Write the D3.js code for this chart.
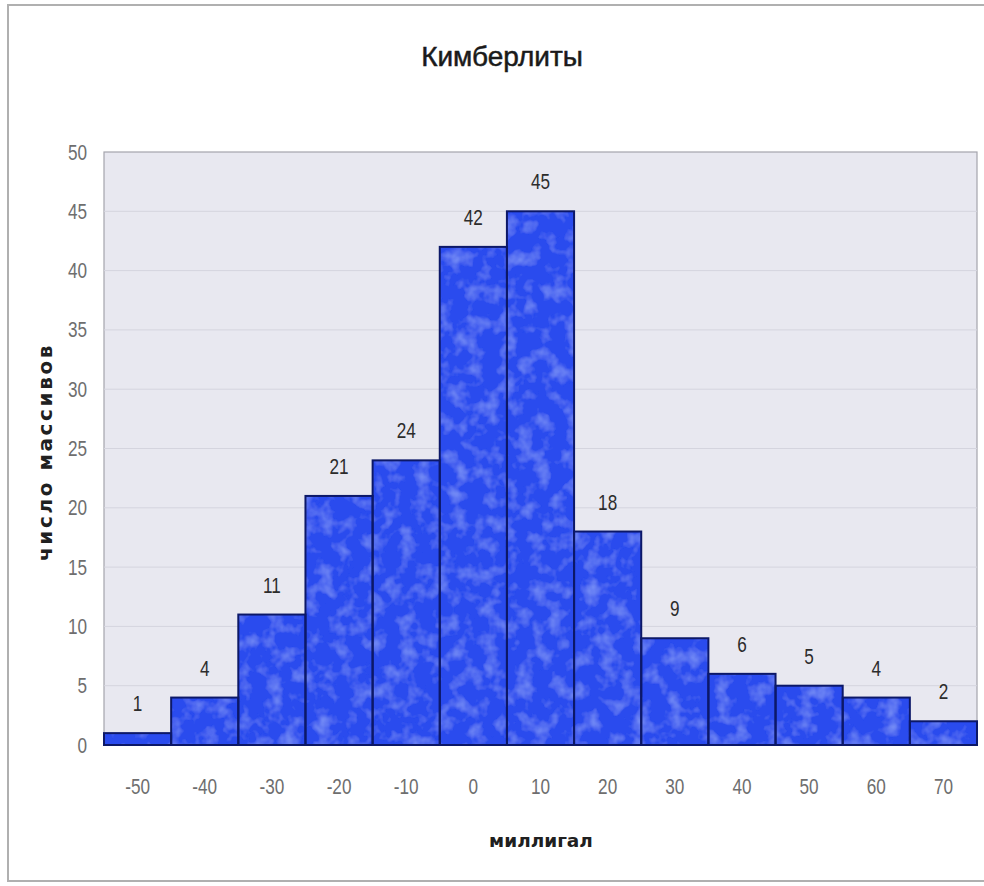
<!DOCTYPE html>
<html>
<head>
<meta charset="utf-8">
<script src="https://cdn.jsdelivr.net/npm/d3@7"></script>
<style>
  html, body { margin: 0; padding: 0; background: #ffffff; }
  svg { display: block; }
</style>
</head>
<body>
<svg id="chart" width="984" height="886"></svg>
<script>
// Histogram of kimberlite bodies by gravity anomaly (mGal)
const categories = ["-50", "-40", "-30", "-20", "-10", "0", "10", "20", "30", "40", "50", "60", "70"];
const counts = [1, 4, 11, 21, 24, 42, 45, 18, 9, 6, 5, 4, 2];
const yTicks = [0, 5, 10, 15, 20, 25, 30, 35, 40, 45, 50];

const titleText = "Кимберлиты";
const xLabel = "миллигал";
const yLabel = "число массивов";

const svg = d3.select("#chart");
const W = 984, H = 886;
const plot = { left: 104, right: 977, top: 152, bottom: 745 };
const sans = "'Liberation Sans', Arial, sans-serif";
const bold = "'DejaVu Sans', sans-serif";
const squeeze = 0.78; // horizontal compression for the narrow numeric labels

// Faint mottled texture for the bar fill
const defs = svg.append("defs");
const f = defs.append("filter").attr("id", "mottle")
  .attr("x", 0).attr("y", 0).attr("width", 1).attr("height", 1);
f.append("feTurbulence")
  .attr("type", "fractalNoise").attr("baseFrequency", 0.06)
  .attr("numOctaves", 3).attr("seed", 7).attr("result", "noise");
f.append("feColorMatrix").attr("in", "noise").attr("type", "matrix")
  .attr("values", "0 0 0 0 0.38  0 0 0 0 0.52  0 0 0 0 1  0 0 0 0.9 -0.42")
  .attr("result", "spots");
f.append("feComposite").attr("in", "spots").attr("in2", "SourceGraphic")
  .attr("operator", "in").attr("result", "clipped");
const merge = f.append("feMerge");
merge.append("feMergeNode").attr("in", "SourceGraphic");
merge.append("feMergeNode").attr("in", "clipped");

// Outer frame of the chart area
svg.append("rect")
  .attr("x", 8).attr("y", 5)
  .attr("width", W + 10).attr("height", 876)
  .attr("fill", "#ffffff")
  .attr("stroke", "#b0b0b0").attr("stroke-width", 2);

const x = d3.scaleBand().domain(categories).range([plot.left, plot.right]).padding(0);
const y = d3.scaleLinear().domain([0, 50]).range([plot.bottom, plot.top]);

// Plot background
svg.append("rect")
  .attr("x", plot.left).attr("y", plot.top)
  .attr("width", plot.right - plot.left).attr("height", plot.bottom - plot.top)
  .attr("fill", "#e8e8f0")
  .attr("stroke", "#a4a4ac").attr("stroke-width", 1.2);

// Horizontal gridlines
svg.append("g")
  .selectAll("line")
  .data(yTicks.filter(t => t > 0 && t < 50))
  .join("line")
  .attr("x1", plot.left).attr("x2", plot.right)
  .attr("y1", d => y(d)).attr("y2", d => y(d))
  .attr("stroke", "#d4d4de").attr("stroke-width", 1);

const barData = categories.map((c, i) => ({ c, v: counts[i] }));

// Bar fills
svg.append("g")
  .selectAll("rect")
  .data(barData)
  .join("rect")
  .attr("x", d => x(d.c))
  .attr("y", d => y(d.v))
  .attr("width", x.bandwidth())
  .attr("height", d => y(0) - y(d.v))
  .attr("fill", "#2b4cee")
  .attr("filter", "url(#mottle)");

// Bar outlines
svg.append("g")
  .selectAll("rect")
  .data(barData)
  .join("rect")
  .attr("x", d => x(d.c))
  .attr("y", d => y(d.v))
  .attr("width", x.bandwidth())
  .attr("height", d => y(0) - y(d.v))
  .attr("fill", "none")
  .attr("stroke", "#0c1868")
  .attr("stroke-width", 2);

// Value labels above bars
svg.append("g")
  .selectAll("text")
  .data(barData)
  .join("text")
  .attr("transform", d => `translate(${x(d.c) + x.bandwidth() / 2},${y(d.v) - 22}) scale(${squeeze},1)`)
  .attr("text-anchor", "middle")
  .attr("font-family", sans)
  .attr("font-size", 22)
  .attr("fill", "#2c2c2c")
  .text(d => d.v);

// Y axis labels
const yAxis = d3.axisLeft(y).tickValues(yTicks).tickSize(0).tickPadding(17 / squeeze);
const gy = svg.append("g").attr("transform", `translate(${plot.left},0)`).call(yAxis);
gy.select(".domain").remove();
gy.selectAll("text")
  .attr("transform", `scale(${squeeze},1)`)
  .attr("font-family", sans)
  .attr("font-size", 22)
  .attr("fill", "#6e6e6e");

// X axis labels
const xAxis = d3.axisBottom(x).tickSize(0).tickPadding(33);
const gx = svg.append("g").attr("transform", `translate(0,${plot.bottom})`).call(xAxis);
gx.select(".domain").remove();
gx.selectAll("text")
  .attr("transform", `scale(${squeeze},1)`)
  .attr("font-family", sans)
  .attr("font-size", 22)
  .attr("fill", "#6e6e6e");

// Title
svg.append("text")
  .attr("x", 502).attr("y", 66)
  .attr("text-anchor", "middle")
  .attr("font-family", sans)
  .attr("font-size", 28)
  .attr("fill", "#1a1a1a")
  .attr("stroke", "#1a1a1a").attr("stroke-width", 0.5)
  .text(titleText);

// Axis titles
svg.append("text")
  .attr("x", 541).attr("y", 847)
  .attr("text-anchor", "middle")
  .attr("font-family", bold)
  .attr("font-weight", "bold")
  .attr("font-size", 18.5)
  .attr("fill", "#202020")
  .text(xLabel);

svg.append("text")
  .attr("transform", `translate(52,452) rotate(-90)`)
  .attr("text-anchor", "middle")
  .attr("font-family", bold)
  .attr("font-weight", "bold")
  .attr("font-size", 20)
  .attr("letter-spacing", 2.6)
  .attr("fill", "#202020")
  .text(yLabel);
</script>
</body>
</html>
